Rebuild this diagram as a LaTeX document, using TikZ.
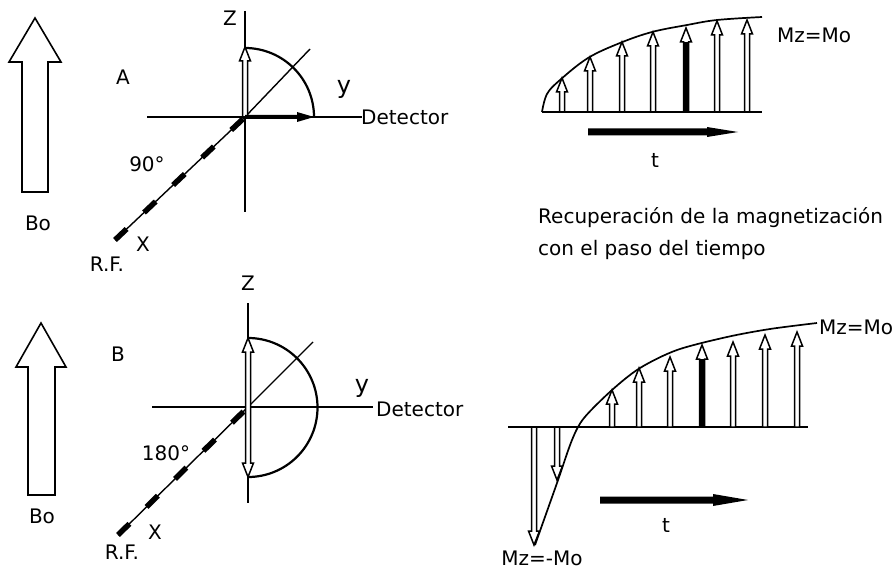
\documentclass[tikz,border=0pt]{standalone}
\usepackage{fontspec}
\setmainfont{DejaVu Sans}
\usetikzlibrary{arrows.meta}
\newcommand{\lblfont}{\fontsize{20}{23}\selectfont}
\newcommand{\ylfont}{\fontsize{24}{26}\selectfont}
% vertical hollow arrow: x, base y, tip y, dir (+1 up, -1 down), fill
\newcommand{\VArr}[5]{%
  \draw[hol, fill=#5] ({#1-2.5},#2) -- ({#1-2.5},{#3+14*(#4)}) -- ({#1-5.5},{#3+14*(#4)}) -- (#1,#3)
    -- ({#1+5.5},{#3+14*(#4)}) -- ({#1+2.5},{#3+14*(#4)}) -- ({#1+2.5},#2) -- cycle;}
\begin{document}
\begin{tikzpicture}[x=1pt,y=-1pt,
  ax/.style={line width=1.4pt},
  hol/.style={line width=1.5pt, fill=white},
  curve/.style={line width=1.7pt},
  lbl/.style={font=\lblfont, inner sep=0pt},
  ylbl/.style={font=\ylfont, inner sep=0pt},
  bigarrow/.style={line width=1.6pt, fill=white},
  rf/.style={line width=5.5pt, dash pattern=on 16pt off 24pt}]
\useasboundingbox (0,0) rectangle (893,577);

% ---------------- Panel A ----------------
\coordinate (oA) at (245,117);
\draw[bigarrow] (35,18) -- (61,62) -- (48,62) -- (48,192) -- (22,192) -- (22,62) -- (9,62) -- cycle;
\node[lbl] (boA) at (38,223) {Bo};
\node[lbl] (labA) at (123,77) {A};
\coordinate (zAt) at (245,11);
\coordinate (zAb) at (245,212);
\draw[ax] (zAt) -- (zAb);
\coordinate (yAl) at (147,117);
\coordinate (yAr) at (362,117);
\draw[ax] (yAl) -- (yAr);
\coordinate (dA) at (310,49);
\draw[ax] (oA) -- (dA);
\coordinate (xA) at (115,240);
\draw[ax] (oA) -- (xA);
\draw[rf] (xA) -- (oA);
\draw[curve, line width=2.2pt] (245,48) arc[start angle=-90, end angle=0, radius=69];
\VArr{245}{117}{47}{1}{white}
\fill (245,115) -- (297,115) -- (297,112) -- (314,117) -- (297,122) -- (297,119) -- (245,119) -- cycle;
\node[lbl] (zlA) at (230,18) {Z};
\node[ylbl] (ylA) at (344,89) {y};
\node[lbl, anchor=west] (detA) at (361,117) {Detector};
\node[lbl] (angA) at (147,164) {90°};
\node[lbl] (xlA) at (143,244) {X};
\node[lbl] (rfA) at (107,264) {R.F.};

% ---------------- Panel B ----------------
\coordinate (oB) at (248,407);
\draw[bigarrow] (41,323) -- (66,367) -- (55,367) -- (55,495) -- (28,495) -- (28,367) -- (16,367) -- cycle;
\node[lbl] (boB) at (42,516) {Bo};
\node[lbl] (labB) at (118,354) {B};
\coordinate (zBt) at (248,303);
\coordinate (zBb) at (248,503);
\draw[ax] (zBt) -- (zBb);
\coordinate (yBl) at (152,407);
\coordinate (yBr) at (373,407);
\draw[ax] (yBl) -- (yBr);
\coordinate (dB) at (313,342);
\draw[ax] (oB) -- (dB);
\coordinate (xB) at (118,535);
\draw[ax] (oB) -- (xB);
\draw[rf] (xB) -- (oB);
\draw[curve, line width=2.2pt] (248,338) arc[start angle=-90, end angle=90, radius=69.5];
\draw[hol] (245.5,352) -- (242.5,352) -- (248,338) -- (253.5,352) -- (250.5,352)
  -- (250.5,463) -- (253.5,463) -- (248,477) -- (242.5,463) -- (245.5,463) -- cycle;
\node[lbl] (zlB) at (248,283) {Z};
\node[ylbl] (ylB) at (362,388) {y};
\node[lbl, anchor=west] (detB) at (376,409) {Detector};
\node[lbl] (angB) at (166,453) {180°};
\node[lbl] (xlB) at (155,532) {X};
\node[lbl] (rfB) at (122,552) {R.F.};

% ---------------- Top right ----------------
\coordinate (b1l) at (542,112);
\coordinate (b1r) at (762,112);
\draw[ax] (b1l) -- (b1r);
\draw[curve] plot[smooth, tension=0.6] coordinates {(542,112) (547,94) (560,80) (588,58) (620,43) (652,32) (687,25) (717,20) (762,17)};
\VArr{562}{112}{78}{1}{white}
\VArr{590}{112}{57}{1}{white}
\VArr{622}{112}{42}{1}{white}
\VArr{653}{112}{32}{1}{white}
\VArr{686}{112}{28}{1}{white}
\fill (683.5,42) rectangle (688.5,112);
\VArr{717}{112}{21}{1}{white}
\VArr{747}{112}{20}{1}{white}
\fill (588,128.5) -- (707,128.5) -- (707,127) -- (738,132) -- (707,137) -- (707,135.5) -- (588,135.5) -- cycle;
\node[lbl] (tA) at (655,160) {t};
\node[lbl] (mzA) at (814,35) {Mz=Mo};
\node[lbl, anchor=base west] (rec1) at (538,223) {Recuperación de la magnetización};
\node[lbl, anchor=base west] (rec2) at (538,255) {con el paso del tiempo};

% ---------------- Bottom right ----------------
\coordinate (b2l) at (508,427);
\coordinate (b2r) at (808,427);
\draw[ax] (b2l) -- (b2r);
\VArr{534}{427}{545}{-1}{white}
\VArr{557}{427}{480}{-1}{white}
\draw[curve] plot[smooth, tension=0.5] coordinates {(535,545) (557,483) (572,440) (584,418) (612,390) (640,368) (677,350) (727,337) (770,329) (817,323)};
\VArr{612}{427}{390}{1}{white}
\VArr{639}{427}{368}{1}{white}
\VArr{670}{427}{357}{1}{white}
\VArr{702}{427}{345}{1}{white}
\fill (699.5,359) rectangle (704.5,427);
\VArr{733}{427}{342}{1}{white}
\VArr{765}{427}{335}{1}{white}
\VArr{797}{427}{332}{1}{white}
\fill (600,496.5) -- (713,496.5) -- (713,494) -- (748,500) -- (713,506) -- (713,503.5) -- (600,503.5) -- cycle;
\node[lbl] (tB) at (666,525) {t};
\node[lbl] (mzB) at (856,327) {Mz=Mo};
\node[lbl] (mzmB) at (542,558) {Mz=-Mo};
\end{tikzpicture}
\end{document}
